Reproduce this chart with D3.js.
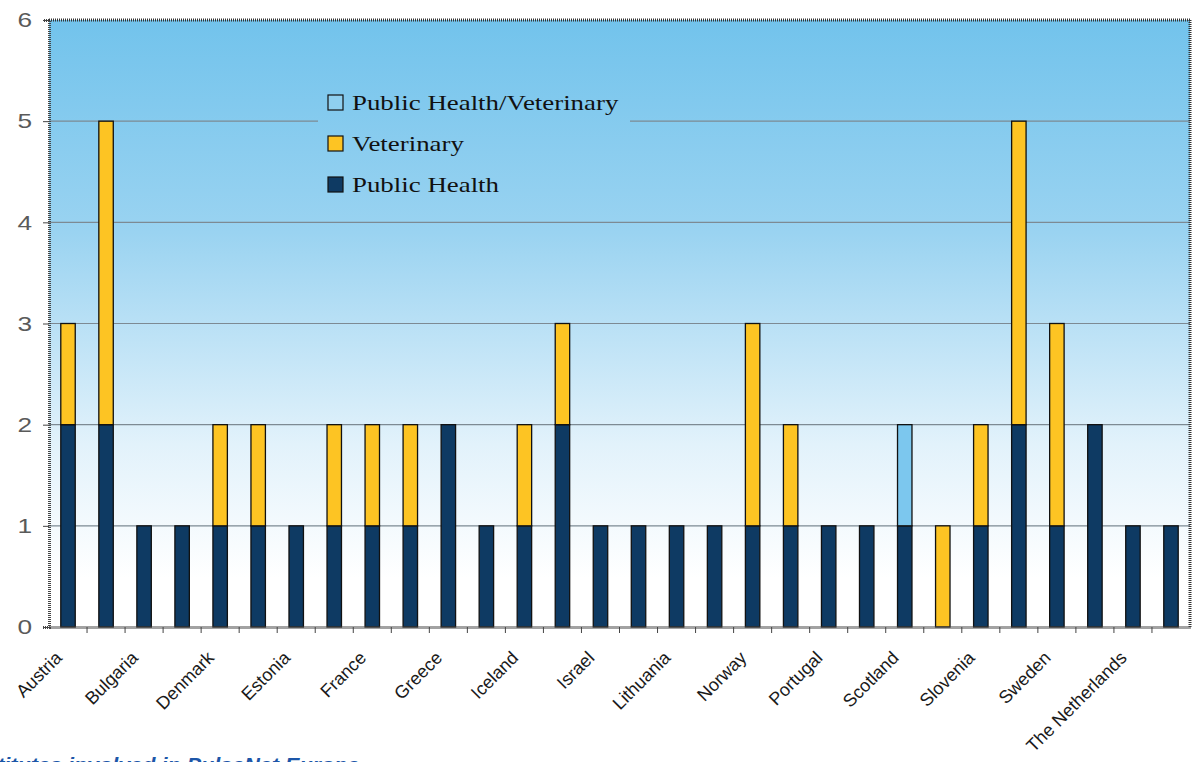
<!DOCTYPE html>
<html>
<head>
<meta charset="utf-8">
<script src="https://cdn.jsdelivr.net/npm/d3@7"></script>
<style>
  body { margin: 0; background: #fff; overflow: hidden; }
  svg { display: block; }
</style>
</head>
<body>
<div id="chart"></div>
<script>
// categories (only every other one gets a label on the axis)
var countries = ["Austria", "Belgium", "Bulgaria", "Czech Republic", "Denmark", "England and Wales",
  "Estonia", "Finland", "France", "Germany", "Greece", "Hungary", "Iceland", "Ireland", "Israel",
  "Italy", "Lithuania", "Luxembourg", "Norway", "Poland", "Portugal", "Romania", "Scotland",
  "Slovakia", "Slovenia", "Spain", "Sweden", "Switzerland", "The Netherlands", "Turkey"];

var publicHealth = [2, 2, 1, 1, 1, 1, 1, 1, 1, 1, 2, 1, 1, 2, 1, 1, 1, 1, 1, 1, 1, 1, 1, 0, 1, 2, 1, 2, 1, 1];
var veterinary   = [1, 3, 0, 0, 1, 1, 0, 1, 1, 1, 0, 0, 1, 1, 0, 0, 0, 0, 2, 1, 0, 0, 0, 1, 1, 3, 2, 0, 0, 0];
var phVet        = [0, 0, 0, 0, 0, 0, 0, 0, 0, 0, 0, 0, 0, 0, 0, 0, 0, 0, 0, 0, 0, 0, 1, 0, 0, 0, 0, 0, 0, 0];

var seriesNames = ["Public Health", "Veterinary", "Public Health/Veterinary"];
var yTicks = [0, 1, 2, 3, 4, 5, 6];
var caption = "Institutes involved in PulseNet Europe";

var W = 1192, H = 762;
var pLeft = 49, pRight = 1190, pTop = 20, pBottom = 627;
var stretch = 1.25; // the source picture is a bit wider than it should be

var colors = {
  "Public Health": "#0e3a63",
  "Veterinary": "#fdc423",
  "Public Health/Veterinary": "#7cc7ee"
};

var svg = d3.select("#chart").append("svg")
  .attr("width", W)
  .attr("height", H);

var defs = svg.append("defs");
function addGradient(id, y1, y2){
  var g = defs.append("linearGradient")
    .attr("id", id)
    .attr("gradientUnits", "userSpaceOnUse")
    .attr("x1", 0).attr("y1", y1).attr("x2", 0).attr("y2", y2);
  g.append("stop").attr("offset", "0%").attr("stop-color", "#72c3ec");
  g.append("stop").attr("offset", "35%").attr("stop-color", "#9ad3f1");
  g.append("stop").attr("offset", "70%").attr("stop-color", "#e2f2fb");
  g.append("stop").attr("offset", "92%").attr("stop-color", "#ffffff");
}
addGradient("bg", pTop, pBottom);

var x = d3.scaleBand()
  .domain(countries)
  .range([pLeft, pRight])
  .paddingInner(0.62)
  .paddingOuter(0.31);

var y = d3.scaleLinear()
  .domain([0, 6])
  .range([pBottom, pTop]);

// plot background
svg.append("rect")
  .attr("x", pLeft).attr("y", pTop)
  .attr("width", pRight - pLeft).attr("height", pBottom - pTop)
  .attr("fill", "url(#bg)");

// gridlines
svg.append("g")
  .selectAll("line")
  .data(yTicks.slice(1, -1))
  .enter()
  .append("line")
  .attr("x1", pLeft).attr("x2", pRight)
  .attr("y1", function(d){return y(d);})
  .attr("y2", function(d){return y(d);})
  .attr("stroke", "#7d8a93")
  .attr("stroke-width", 1.2);

// stacked bars
var rows = countries.map(function(c, i){
  return {country: c, "Public Health": publicHealth[i], "Veterinary": veterinary[i],
    "Public Health/Veterinary": phVet[i]};
});
var stack = d3.stack().keys(seriesNames)(rows);

svg.append("g")
  .selectAll("g")
  .data(stack)
  .enter()
  .append("g")
  .attr("fill", function(d){return colors[d.key];})
  .selectAll("rect")
  .data(function(d){return d.filter(function(s){return s[1] > s[0];});})
  .enter()
  .append("rect")
  .attr("x", function(d){return x(d.data.country);})
  .attr("width", x.bandwidth())
  .attr("y", function(d){return y(d[1]);})
  .attr("height", function(d){return y(d[0]) - y(d[1]);})
  .attr("stroke", "#111")
  .attr("stroke-width", 1.3);

// legend, its box (same gradient) hides the gridline behind it
var lgX = 318, lgY = 84;
addGradient("bgLegend", pTop - lgY, pBottom - lgY);
var lg = svg.append("g").attr("transform", "translate(" + lgX + "," + lgY + ")");
lg.append("rect")
  .attr("width", 312).attr("height", 116)
  .attr("fill", "url(#bgLegend)");

var legendOrder = ["Public Health/Veterinary", "Veterinary", "Public Health"];
var items = lg.selectAll(".item")
  .data(legendOrder)
  .enter()
  .append("g")
  .attr("class", "item")
  .attr("transform", function(d, i){return "translate(10," + (11 + i * 41) + ")";});
items.append("rect")
  .attr("width", 15).attr("height", 15)
  .attr("fill", function(d){return d == "Public Health/Veterinary" ? "#8fcfef" : colors[d];})
  .attr("stroke", "#111")
  .attr("stroke-width", 1.2);
items.append("text")
  .attr("transform", "translate(24,15) scale(" + stretch + ",1)")
  .attr("font-family", "Liberation Serif, Times New Roman, serif")
  .attr("font-size", "21.5px")
  .attr("fill", "#111")
  .text(function(d){return d;});

// dotted frame (top and right)
var frame = svg.append("g")
  .attr("fill", "none")
  .attr("stroke", "#333")
  .attr("stroke-width", 3)
  .attr("stroke-dasharray", "1,1");
frame.append("line").attr("x1", pLeft).attr("x2", pRight).attr("y1", pTop).attr("y2", pTop);
frame.append("line").attr("x1", pRight).attr("x2", pRight).attr("y1", pTop).attr("y2", pBottom);

// y axis
var yAxis = svg.append("g")
  .attr("transform", "translate(" + pLeft + ",0)")
  .call(d3.axisLeft(y).tickValues(yTicks).tickSize(6).tickPadding(11).tickFormat(d3.format("d")));
yAxis.select(".domain").attr("stroke", "#444").attr("stroke-width", 3).attr("stroke-dasharray", "1,1");
yAxis.selectAll(".tick line").attr("stroke", "#444");
yAxis.selectAll("text")
  .attr("x", -17 / stretch)
  .attr("transform", "scale(" + stretch + ",1)")
  .attr("font-family", "Liberation Sans, Arial, sans-serif")
  .attr("font-size", "21px")
  .attr("fill", "#5a5a5a");

// x axis: ticks between categories, labels on every other one
var xAxis = svg.append("g")
  .attr("transform", "translate(0," + pBottom + ")")
  .call(d3.axisBottom(x).tickSize(0).tickFormat(""));
xAxis.select(".domain").attr("stroke", "#444").attr("stroke-width", 3).attr("stroke-dasharray", "1,1");
xAxis.selectAll(".tick").remove();

var step = x.step();
xAxis.selectAll(".sep")
  .data(countries.slice(1))
  .enter()
  .append("line")
  .attr("x1", function(d){return x(d) - (step - x.bandwidth()) / 2;})
  .attr("x2", function(d){return x(d) - (step - x.bandwidth()) / 2;})
  .attr("y1", 0).attr("y2", 6)
  .attr("stroke", "#444");

xAxis.selectAll(".lbl")
  .data(countries.filter(function(d, i){return i % 2 == 0;}))
  .enter()
  .append("text")
  .attr("class", "lbl")
  .attr("text-anchor", "end")
  .attr("transform", function(d){
    return "translate(" + (x(d) + x.bandwidth() / 2 - 5) + ",32) rotate(-45)";
  })
  .attr("font-family", "Liberation Sans, Arial, sans-serif")
  .attr("font-size", "18px")
  .attr("fill", "#1a1a1a")
  .text(function(d){return d;});

// caption, cut off at the page edge
svg.append("text")
  .attr("transform", "translate(-34,772) scale(1.08,1)")
  .attr("font-family", "Liberation Sans, Arial, sans-serif")
  .attr("font-size", "20px")
  .attr("font-weight", "bold")
  .attr("font-style", "italic")
  .attr("fill", "#1c56a8")
  .text(caption);
</script>
</body>
</html>
